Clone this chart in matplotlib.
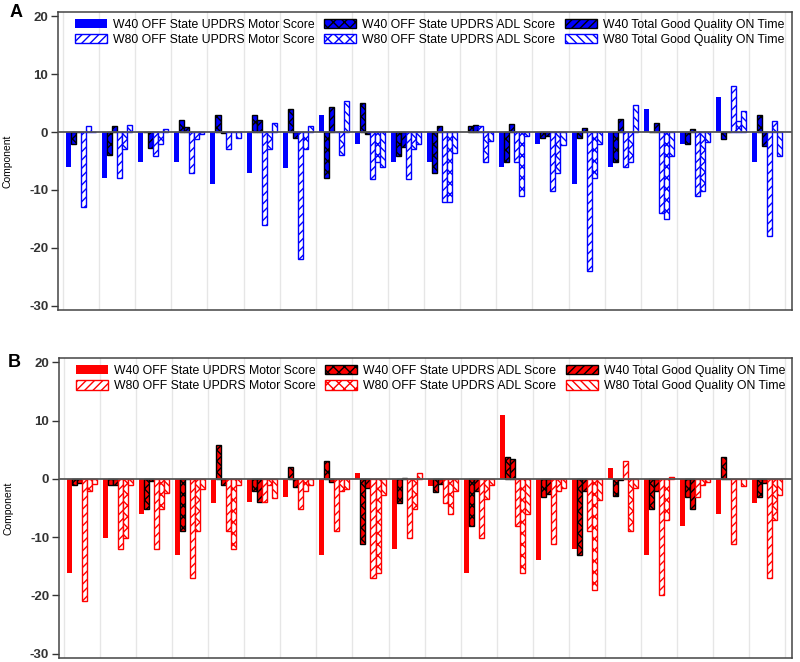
import numpy as np
import matplotlib
matplotlib.use("Agg")
import matplotlib.pyplot as plt

plt.rcParams['font.family'] = ['Liberation Sans', 'DejaVu Sans']
plt.rcParams['axes.unicode_minus'] = False

# 20 subjects
n_groups = 20

# panel A
a_w40_motor = [-6, -8, -5.1, -5.2, -9, -7.1, -6.2, 3, -2.1, -5.2, -5.2, 0, -6.1, -2.1, -9, -6.1, 3.9, -2.1, 6, -5.1]
a_w40_adl = [-2, -4, 0, 2, 3, 3, 3.9, -8, 5, -4.1, -7.1, 1, -5.2, -1.1, -1.1, -5.1, 0, -2.1, -1.2, 3]
a_w40_total = [0, 1, -2.7, 0.9, -0.2, 2.1, -1, 4.4, -0.3, -2.6, 1, 1.3, 1.4, -0.6, 0.7, 2.3, 1.6, 0.6, 0, -2.4]
a_w80_motor = [-13, -8, -4.1, -7.1, -3, -16, -22, 0, -8.1, -8.1, -12.1, 1, -5.2, -10.1, -24, -6.1, -14, -11, 7.9, -18]
a_w80_adl = [1, -3, -2.1, -1.2, 0, -3, -3, -4, -5.2, -3, -12.1, -5.2, -11, -7, -8, -5.1, -15, -10.1, 1.9, 1.9]
a_w80_total = [0, 1.3, 0.6, -0.3, -1, 1.5, 1, 5.3, -6, -2.1, -3.6, -1.5, -0.6, -2.3, -2.1, 4.7, -4.2, -1.8, 3.7, -4.2]

# panel B
b_w40_motor = [-16.1, -10.1, -6.1, -13, -4.1, -4, -3.1, -13, 1, -12.1, -1.2, -16.1, 11, -14, -12.1, 1.9, -13, -8.1, -6.1, -4.1]
b_w40_adl = [-1, -1, -5.2, -9, 5.9, -2, 2, 3, -11.1, -4.1, -2.2, -8.1, 3.8, -3.1, -13, -3, -5.2, -3.1, 3.8, -3.1]
b_w40_total = [-0.7, -1, -0.3, 0, -1, -3.9, -1.4, -0.6, -1.6, 0.2, -0.9, -2.1, 3.4, -2.6, -2, -0.2, -2, -5.2, 0, -0.7]
b_w80_motor = [-21, -12.1, -12.1, -17, -9, -4, -5.2, -9, -17, -10.1, -4.1, -10.1, -8.1, -11.1, -9, 3, -20, -3.1, -11.1, -17]
b_w80_adl = [-2.1, -10.1, -5.2, -9, -12.1, -1, -2, -2.1, -16.1, -5.2, -6.1, -3.5, -16.1, -2.1, -19.1, -9, -7.1, -1, 0, -7.1]
b_w80_total = [-0.9, -1, -2.4, -1.8, -1.1, -3.3, -1.1, -1.7, -2.7, 1, -2, -1.1, -6, -1.6, -3.6, -1.6, 0.35, -0.6, -1.3, -2.7]

labels = ["W40 OFF State UPDRS Motor Score", "W40 OFF State UPDRS ADL Score",
          "W40 Total Good Quality ON Time", "W80 OFF State UPDRS Motor Score",
          "W80 OFF State UPDRS ADL Score", "W80 Total Good Quality ON Time"]


def draw_panel(ax, series, col):
    x = np.arange(n_groups)
    w = 0.139
    styles = [
        dict(color=col, edgecolor=col, linewidth=0),
        dict(color=col, edgecolor='black', hatch='xxx', linewidth=1),
        dict(color=col, edgecolor='black', hatch='////', linewidth=1),
        dict(color='white', edgecolor=col, hatch='////', linewidth=1),
        dict(color='white', edgecolor=col, hatch='xxx', linewidth=1),
        dict(color='white', edgecolor=col, hatch='\\\\\\\\', linewidth=1),
    ]
    handles = []
    for i, vals in enumerate(series):
        h = ax.bar(x + (i - 2.5) * w, vals, w, label=labels[i], zorder=3, **styles[i])
        handles.append(h)
    ax.axhline(0, color='#555555', lw=1.3, zorder=4)
    for g in np.arange(-0.5, n_groups, 1):
        ax.axvline(g, color='#e6e6e6', lw=1, zorder=1)
    ax.set_xlim(-0.64, n_groups - 0.31)
    ax.set_ylim(-30.75, 20.75)
    ax.set_yticks([-30, -20, -10, 0, 10, 20])
    ax.set_xticks([])
    ax.tick_params(axis='y', length=5, width=1, color='#333333', pad=2,
                   labelsize=9.5, labelcolor='#333333')
    for lab in ax.get_yticklabels():
        lab.set_fontweight('bold')
    for sp in ax.spines.values():
        sp.set_color('#444444')
        sp.set_linewidth(1.1)
    ax.set_ylabel("Component", fontsize=7.5)
    ax.yaxis.set_label_coords(-0.062, 0.5)
    order = [0, 3, 1, 4, 2, 5]
    ax.legend([handles[k] for k in order], [labels[k] for k in order], ncol=3,
              loc='upper left', bbox_to_anchor=(0.023, 0.978), frameon=False,
              fontsize=8.8, handlelength=2.6, handleheight=0.85, handletextpad=0.5,
              columnspacing=0.8, labelspacing=0.25, borderpad=0, borderaxespad=0)


fig = plt.figure(figsize=(8, 6.62), dpi=100)
ax_a = fig.add_axes([0.0725, 0.5317, 0.9175, 0.4502])
ax_b = fig.add_axes([0.0737, 0.006, 0.9163, 0.4532])

draw_panel(ax_a, [a_w40_motor, a_w40_adl, a_w40_total, a_w80_motor, a_w80_adl, a_w80_total], '#0000ff')
draw_panel(ax_b, [b_w40_motor, b_w40_adl, b_w40_total, b_w80_motor, b_w80_adl, b_w80_total], '#ff0000')

fig.text(0.012, 0.974, "A", fontsize=13, fontweight='bold', va='baseline')
fig.text(0.010, 0.4456, "B", fontsize=13, fontweight='bold', va='baseline')

fig.savefig("out.png", dpi=100)
